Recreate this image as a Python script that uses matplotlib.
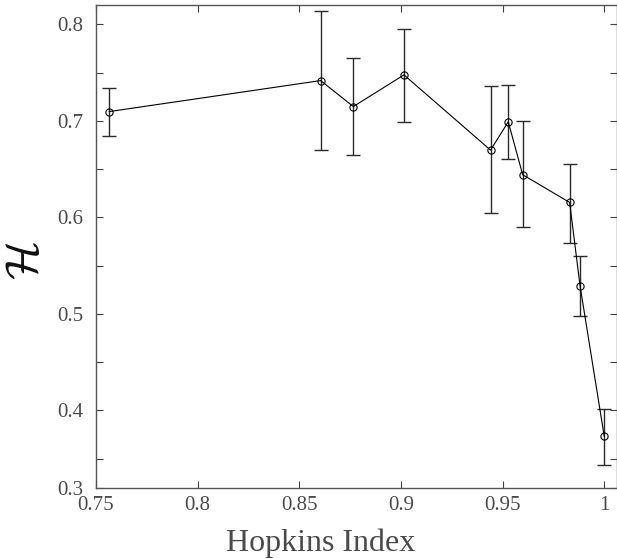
import matplotlib
matplotlib.use("Agg")
import matplotlib.pyplot as plt
import numpy as np

hopkins = [0.7565, 0.8605, 0.8766, 0.9015, 0.9441, 0.9528, 0.9599, 0.9830, 0.9881, 1.0000]
h_mean = [0.7096, 0.7417, 0.7148, 0.7476, 0.6697, 0.6990, 0.6442, 0.6155, 0.5294, 0.3735]
h_upper = [0.7344, 0.8134, 0.7655, 0.7948, 0.7365, 0.7372, 0.6997, 0.6558, 0.5604, 0.4013]
h_lower = [0.6848, 0.6697, 0.6648, 0.6987, 0.6041, 0.6600, 0.5897, 0.5738, 0.4980, 0.3434]

xticks = [0.75, 0.8, 0.85, 0.9, 0.95, 1.0]
xtick_labels = ["0.75", "0.8", "0.85", "0.9", "0.95", "1"]
yticks = [0.32, 0.4, 0.5, 0.6, 0.7, 0.8]
ytick_labels = ["0.3", "0.4", "0.5", "0.6", "0.7", "0.8"]
yminor = [0.35, 0.45, 0.55, 0.65, 0.75]

plt.rcParams['font.family'] = ['Liberation Serif', 'DejaVu Serif']
plt.rcParams['mathtext.fontset'] = 'cm'

fig = plt.figure(figsize=(6.17, 5.59), dpi=100)
ax = fig.add_axes([96/617, 1 - 487.7/559, 1 - 96/617, (487.7 - 5)/559])

x = np.array(hopkins)
y = np.array(h_mean)
yerr = np.vstack([y - np.array(h_lower), np.array(h_upper) - y])

ax.errorbar(x, y, yerr=yerr, fmt='none', ecolor='#2a2a2a', elinewidth=1.0,
            capsize=5.3, capthick=1.0, zorder=2)
ax.plot(x, y, '-', color='black', linewidth=0.8, zorder=3)
ax.plot(x, y, 'o', markersize=5.2, markerfacecolor='none', markeredgecolor='black',
        markeredgewidth=0.8, zorder=4)

ax.set_xlim(0.75, 1.0063)
ax.set_ylim(0.32, 0.82)
ax.set_xticks(xticks)
ax.set_xticklabels(xtick_labels)
ax.set_yticks(yticks)
ax.set_yticklabels(ytick_labels)
ax.set_yticks(yminor, minor=True)

ax.tick_params(axis='both', which='both', direction='in', top=True, right=True,
               colors='#404040', labelcolor='#4a4a4a', labelsize=15, width=0.8)
ax.tick_params(which='major', length=5)
ax.tick_params(which='minor', length=5)
ax.tick_params(axis='x', pad=6)
ax.tick_params(axis='y', pad=9)
for s in ax.spines.values():
    s.set_color('#555555')
    s.set_linewidth(1.0)

ax.set_xlabel('Hopkins Index', fontsize=23, color='#4a4a4a')
ax.xaxis.set_label_coords((321 - 96) / (617 - 96), (487.7 - 543) / (487.7 - 5),
                          transform=ax.transAxes)
ax.xaxis.label.set_va('center')
ax.set_ylabel(r'$\mathcal{H}$', fontsize=33, color='#111111')
ax.yaxis.set_label_coords((27 - 96) / (617 - 96), (487.7 - 261) / (487.7 - 5),
                          transform=ax.transAxes)
ax.yaxis.label.set_va('center')
ax.yaxis.label.set_ha('center')

fig.savefig('out.png', dpi=100)
